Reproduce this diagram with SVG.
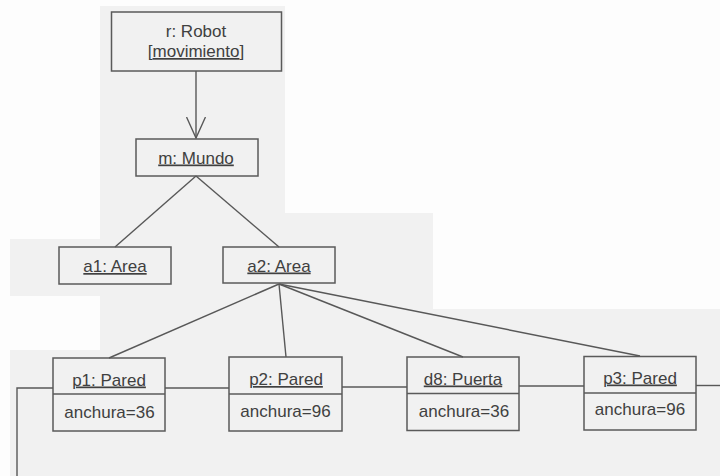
<svg xmlns="http://www.w3.org/2000/svg" width="720" height="476" viewBox="0 0 720 476">
  <style>
    .bg { fill: #fdfdfd; }
    .patch { fill: #f1f1f1; }
    .box { fill: none; stroke: #5a5a5a; stroke-width: 1.5; }
    .wire { fill: none; stroke: #585858; stroke-width: 1.4; }
    .name { font-family: "Liberation Sans", Arial, sans-serif; font-size: 17px; fill: #404040; text-anchor: middle; }
    .attr { font-family: "Liberation Sans", Arial, sans-serif; font-size: 17px; fill: #404040; text-anchor: middle; }
    .u { text-decoration: underline; }
  </style>
  <defs>
    <!-- open "navigable" arrowhead, drawn pointing along +x -->
    <marker id="open" viewBox="0 0 22 20" refX="21" refY="10" markerWidth="22" markerHeight="20" markerUnits="userSpaceOnUse" orient="auto">
      <path d="M0,0.5 L21,10 L0,19.5" fill="none" stroke="#585858" stroke-width="1.4"/>
    </marker>
  </defs>

  <!-- paper -->
  <rect class="bg" x="0" y="0" width="720" height="476"/>
  <g id="paper-tone">
    <rect class="patch" x="100" y="6" width="185" height="207"/>
    <rect class="patch" x="100" y="213" width="333" height="263"/>
    <rect class="patch" x="10" y="239" width="100" height="57"/>
    <rect class="patch" x="10" y="350" width="710" height="126"/>
    <rect class="patch" x="433" y="309" width="287" height="167"/>
  </g>

  <!-- links -->
  <g id="connectors">
    <line class="wire" x1="196" y1="71" x2="196" y2="138" marker-end="url(#open)"/>
    <line class="wire" x1="196" y1="176" x2="115" y2="247"/>
    <line class="wire" x1="196" y1="176" x2="279" y2="247"/>
    <line class="wire" x1="279" y1="284" x2="109" y2="358"/>
    <line class="wire" x1="279" y1="284" x2="286" y2="357"/>
    <line class="wire" x1="279" y1="284" x2="463" y2="357"/>
    <line class="wire" x1="279" y1="284" x2="640" y2="356"/>
    <line class="wire" x1="165" y1="388" x2="229" y2="388"/>
    <line class="wire" x1="342" y1="387" x2="407" y2="387"/>
    <line class="wire" x1="519" y1="386" x2="584" y2="386"/>
    <line class="wire" x1="696" y1="385.5" x2="720" y2="385.5"/>
    <polyline class="wire" points="53,388 17,388 17,476"/>
  </g>

  <g id="robot">
    <rect class="box" x="111.5" y="12" width="170" height="59"/>
    <text class="name" x="196" y="37">r: Robot</text>
    <text class="name" x="196" y="57">[<tspan class="u">movimiento</tspan>]</text>
  </g>

  <g id="mundo">
    <rect class="box" x="136" y="139" width="122" height="37"/>
    <text class="name u" x="196" y="163.5">m: Mundo</text>
  </g>

  <g id="a1">
    <rect class="box" x="59" y="247" width="112" height="37"/>
    <text class="name u" x="115" y="272">a1: Area</text>
  </g>

  <g id="a2">
    <rect class="box" x="223" y="247" width="112" height="36"/>
    <text class="name u" x="279" y="271.5">a2: Area</text>
  </g>

  <g id="p1">
    <rect class="box" x="53" y="358" width="112" height="73"/>
    <line class="box" x1="53" y1="394" x2="165" y2="394"/>
    <text class="name u" x="109" y="385.5">p1: Pared</text>
    <text class="attr" x="109.5" y="417.5">anchura=36</text>
  </g>

  <g id="p2">
    <rect class="box" x="229" y="357" width="113" height="74"/>
    <line class="box" x1="229" y1="394" x2="342" y2="394"/>
    <text class="name u" x="286" y="385">p2: Pared</text>
    <text class="attr" x="285.5" y="416.5">anchura=96</text>
  </g>

  <g id="d8">
    <rect class="box" x="407" y="357" width="112" height="73.5"/>
    <line class="box" x1="407" y1="393.5" x2="519" y2="393.5"/>
    <text class="name u" x="463" y="384.5">d8: Puerta</text>
    <text class="attr" x="464" y="416.5">anchura=36</text>
  </g>

  <g id="p3">
    <rect class="box" x="584" y="356.5" width="112" height="73.5"/>
    <line class="box" x1="584" y1="393" x2="696" y2="393"/>
    <text class="name u" x="640" y="383.5">p3: Pared</text>
    <text class="attr" x="640" y="414.5">anchura=96</text>
  </g>
</svg>
